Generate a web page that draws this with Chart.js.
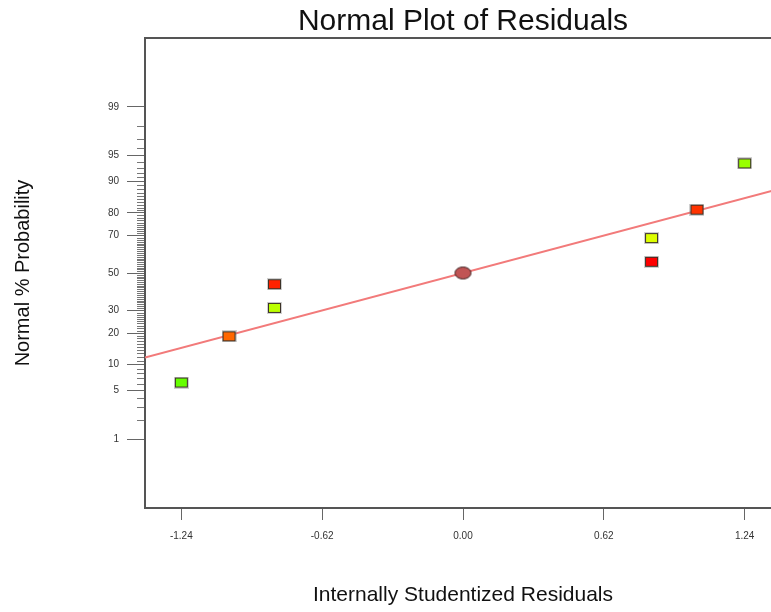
<!DOCTYPE html>
<html>
<head>
<meta charset="utf-8">
<script src="https://cdn.jsdelivr.net/npm/chart.js@4.4.1/dist/chart.umd.min.js"></script>
<style>
  html, body { margin: 0; padding: 0; background: #fff; overflow: hidden; }
  #wrap { width: 790px; height: 612px; }
</style>
</head>
<body>
<div id="wrap"><canvas id="grafico" width="790" height="612"></canvas></div>
<script>
// valores
const residuals = [-1.24, -1.03, -0.83, -0.83, 0.00, 0.83, 0.83, 1.03, 1.24];
const probabilities = [6.25, 18.75, 43.75, 31.25, 50, 68.75, 56.25, 81.25, 93.75];
const pointColors = ['#66ff00', '#ff6600', '#ff2200', '#bbff00', '#c05454', '#ddff00', '#ff0000', '#ff3300', '#99ff00'];
const markerShapes = ['box', 'box', 'box', 'box', 'circle', 'box', 'box', 'box', 'box'];
const lineResiduals = [-1.4, 1.4];
const lineProbabilities = [11.8, 88.2];
const xTickValues = [-1.24, -0.62, 0, 0.62, 1.24];
const yTickValues = [1, 5, 10, 20, 30, 50, 70, 80, 90, 95, 99];

// inversa da normal (Acklam)
function probit(p) {
  const a = [-39.69683028665376, 220.9460984245205, -275.9285104469687, 138.3577518672690, -30.66479806614716, 2.506628277459239];
  const b = [-54.47609879822406, 161.5858368580409, -155.6989798598866, 66.80131188771972, -13.28068155288572];
  const c = [-0.007784894002430293, -0.3223964580411365, -2.400758277161838, -2.549732539343734, 4.374664141464968, 2.938163982698783];
  const d = [0.007784695709041462, 0.3224671290700398, 2.445134137142996, 3.754408661907416];
  const pl = 0.02425;
  let q, r;
  if (p < pl) {
    q = Math.sqrt(-2 * Math.log(p));
    return (((((c[0]*q+c[1])*q+c[2])*q+c[3])*q+c[4])*q+c[5]) / ((((d[0]*q+d[1])*q+d[2])*q+d[3])*q+1);
  }
  if (p > 1 - pl) {
    q = Math.sqrt(-2 * Math.log(1 - p));
    return -(((((c[0]*q+c[1])*q+c[2])*q+c[3])*q+c[4])*q+c[5]) / ((((d[0]*q+d[1])*q+d[2])*q+d[3])*q+1);
  }
  q = p - 0.5; r = q * q;
  return (((((a[0]*r+a[1])*r+a[2])*r+a[3])*r+a[4])*r+a[5])*q / (((((b[0]*r+b[1])*r+b[2])*r+b[3])*r+b[4])*r+1);
}

function normCdf(z) {
  const t = 1 / (1 + 0.2316419 * Math.abs(z));
  const dd = 0.3989423 * Math.exp(-z * z / 2);
  const pr = dd * t * (0.3193815 + t * (-0.3565638 + t * (1.781478 + t * (-1.821256 + t * 1.330274))));
  return z > 0 ? 1 - pr : pr;
}

// escala de probabilidade normal
class ProbabilityScale extends Chart.Scale {
  determineDataLimits() {
    this.min = probit(this.options.min / 100);
    this.max = probit(this.options.max / 100);
  }
  buildTicks() {
    return yTickValues.map(v => ({ value: v }));
  }
  getLabelForValue(v) { return String(v); }
  configure() {
    super.configure();
    this._startValue = this.min;
    this._valueRange = this.max - this.min;
  }
  getPixelForValue(v) {
    return this.getPixelForDecimal((probit(v / 100) - this._startValue) / this._valueRange);
  }
  getValueForPixel(px) {
    return 100 * normCdf(this._startValue + this.getDecimalForPixel(px) * this._valueRange);
  }
}
ProbabilityScale.id = 'probability';
ProbabilityScale.defaults = {};
Chart.register(ProbabilityScale);

function makeMarker(shape, color) {
  const cv = document.createElement('canvas');
  const g = cv.getContext('2d');
  if (shape === 'circle') {
    cv.width = 19; cv.height = 15;
    g.beginPath();
    g.ellipse(9.5, 7.5, 8, 6, 0, 0, Math.PI * 2);
    g.fillStyle = color; g.fill();
    g.strokeStyle = '#3a2020'; g.lineWidth = 1; g.stroke();
  } else {
    cv.width = 15; cv.height = 12;
    g.fillStyle = 'rgba(120,120,120,0.35)';
    g.fillRect(0, 0, 15, 12);
    g.fillStyle = color;
    g.fillRect(1, 1, 13, 10);
    g.strokeStyle = '#3c3228'; g.lineWidth = 1;
    g.strokeRect(1.5, 1.5, 12, 9);
  }
  return cv;
}

const molduraPlugin = {
  id: 'moldura',
  beforeDatasetsDraw(chart) {
    const { ctx, chartArea: a, scales: { y } } = chart;
    ctx.save();
    ctx.strokeStyle = '#777';
    ctx.lineWidth = 1;
    for (let p = 1; p <= 99; p++) {
      if (yTickValues.includes(p)) continue;
      const py = Math.round(y.getPixelForValue(p)) + 0.5;
      ctx.beginPath();
      ctx.moveTo(a.left - 8, py);
      ctx.lineTo(a.left, py);
      ctx.stroke();
    }
    ctx.strokeStyle = '#555';
    ctx.lineWidth = 2;
    ctx.strokeRect(a.left, a.top, a.right - a.left, a.bottom - a.top);
    ctx.restore();
  }
};

Chart.defaults.font.family = "'Liberation Sans', Arial, sans-serif";
Chart.defaults.color = '#222';

const ctx = document.getElementById('grafico');

new Chart(ctx, {
  type: 'scatter',
  data: {
    datasets: [{
      label: 'Residuals',
      data: residuals.map((r, i) => ({ x: r, y: probabilities[i] })),
      pointStyle: markerShapes.map((s, i) => makeMarker(s, pointColors[i])),
      pointRadius: 6,
      order: 0
    }, {
      type: 'line',
      label: 'Normal line',
      data: lineResiduals.map((r, i) => ({ x: r, y: lineProbabilities[i] })),
      borderColor: '#f27a7a',
      borderWidth: 2,
      pointRadius: 0,
      fill: false,
      order: 1
    }]
  },
  options: {
    responsive: false,
    animation: false,
    events: [],
    layout: { padding: { left: 0, right: 9, top: 0, bottom: 0 } },
    plugins: {
      legend: { display: false },
      tooltip: { enabled: false },
      title: {
        display: true,
        text: 'Normal Plot of Residuals',
        fullSize: false,
        color: '#111',
        font: { size: 30, weight: 'normal', lineHeight: 1.1 },
        padding: { top: 5, bottom: 0 }
      }
    },
    scales: {
      x: {
        type: 'linear',
        min: -1.4,
        max: 1.4,
        afterBuildTicks: scale => { scale.ticks = xTickValues.map(v => ({ value: v })); },
        afterFit: scale => { scale.height = 104; },
        ticks: {
          autoSkip: false,
          maxRotation: 0,
          padding: 10,
          color: '#333',
          font: { size: 10 },
          callback: v => Number(v).toFixed(2)
        },
        grid: { display: true, drawOnChartArea: false, drawTicks: true, tickLength: 12, color: '#666' },
        border: { display: false },
        title: {
          display: true,
          text: 'Internally Studentized Residuals',
          color: '#111',
          font: { size: 21 },
          padding: { top: 0, bottom: 4 }
        }
      },
      y: {
        type: 'probability',
        min: 0.05,
        max: 99.95,
        afterFit: scale => { scale.width = 145; },
        ticks: {
          autoSkip: false,
          padding: 8,
          color: '#333',
          font: { size: 10 },
          callback: v => String(v)
        },
        grid: { display: true, drawOnChartArea: false, drawTicks: true, tickLength: 18, color: '#666' },
        border: { display: false },
        title: {
          display: true,
          text: 'Normal % Probability',
          color: '#111',
          font: { size: 20 },
          padding: { top: 11, bottom: 0 }
        }
      }
    }
  },
  plugins: [molduraPlugin]
});
</script>
</body>
</html>
